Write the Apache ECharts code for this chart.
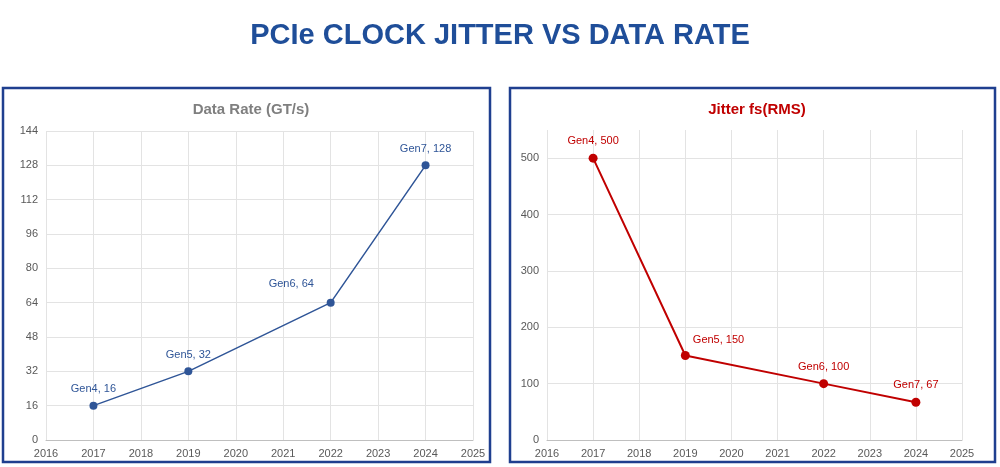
<!DOCTYPE html>
<html><head><meta charset="utf-8">
<script src="https://cdn.jsdelivr.net/npm/echarts@6/dist/echarts.min.js"></script>
<style>html,body{margin:0;padding:0;background:#fff}#c{width:1000px;height:467px}</style>
</head><body><div id="c"></div>
<script>
const gens = ['Gen4','Gen5','Gen6','Gen7'];
const years = [2017,2019,2022,2024];
const dataRate = [16,32,64,128];
const jitter = [500,150,100,67];
const c = echarts.init(document.getElementById('c'));
const font = 'Liberation Sans, Arial, sans-serif';
function ax(gi){return {type:'value',gridIndex:gi,min:2016,max:2025,interval:1,
  axisLine:{show:true,lineStyle:{color:'#bfbfbf'}},axisTick:{show:false},
  axisLabel:{color:'#595959',fontSize:11,fontFamily:font,formatter:v=>String(v)},
  splitLine:{show:true,lineStyle:{color:'#e3e3e3'}}};}
const leftPos = ['top','top',[-58,-20],'top'];
const rightPos = ['top',[12,-16],'top','top'];
c.setOption({
  animation:false,
  title:[
    {text:'PCIe CLOCK JITTER VS DATA RATE',left:'center',top:16,textStyle:{color:'#1f4e99',fontSize:29,fontWeight:'bold',fontFamily:'Liberation Sans Narrow, Arial Narrow, sans-serif'}},
    {text:'Data Rate (GT/s)',left:246,textAlign:'center',top:97,textStyle:{color:'#7f7f7f',fontSize:15,fontWeight:'bold',fontFamily:font}},
    {text:'Jitter fs(RMS)',left:752,textAlign:'center',top:97,textStyle:{color:'#c00000',fontSize:15,fontWeight:'bold',fontFamily:font}}
  ],
  graphic:[
    {type:'rect',shape:{x:3,y:88,width:487,height:374},style:{fill:'none',stroke:'#1f3f8f',lineWidth:2.5}},
    {type:'rect',shape:{x:510,y:88,width:485,height:374},style:{fill:'none',stroke:'#1f3f8f',lineWidth:2.5}}
  ],
  grid:[{left:46,width:427,top:131,height:309},{left:547,width:415,top:130,height:310}],
  xAxis:[ax(0),ax(1)],
  yAxis:[
    {type:'value',gridIndex:0,min:0,max:144,interval:16,axisLine:{show:false},axisTick:{show:false},
     axisLabel:{color:'#595959',fontSize:11,fontFamily:font},splitLine:{lineStyle:{color:'#e3e3e3'}}},
    {type:'value',gridIndex:1,min:0,max:550,interval:100,axisLine:{show:false},axisTick:{show:false},
     axisLabel:{color:'#595959',fontSize:11,fontFamily:font,showMaxLabel:false,formatter:v=>v%100?'':v},
     splitLine:{showMaxLine:false,lineStyle:{color:'#e3e3e3'}}}
  ],
  series:[
    {type:'line',xAxisIndex:0,yAxisIndex:0,
     data:years.map((y,i)=>({value:[y,dataRate[i]],label:{position:leftPos[i]}})),
     symbol:'circle',symbolSize:8,lineStyle:{color:'#2f5597',width:1.5},itemStyle:{color:'#2f5597'},
     label:{show:true,distance:7,color:'#2f5597',fontSize:11,fontFamily:font,
       formatter:p=>gens[p.dataIndex]+', '+dataRate[p.dataIndex]}},
    {type:'line',xAxisIndex:1,yAxisIndex:1,
     data:years.map((y,i)=>({value:[y,jitter[i]],label:{position:rightPos[i]}})),
     symbol:'circle',symbolSize:9,lineStyle:{color:'#c00000',width:2},itemStyle:{color:'#c00000'},
     label:{show:true,distance:7,color:'#c00000',fontSize:11,fontFamily:font,
       formatter:p=>gens[p.dataIndex]+', '+jitter[p.dataIndex]}}
  ]
});
</script></body></html>
